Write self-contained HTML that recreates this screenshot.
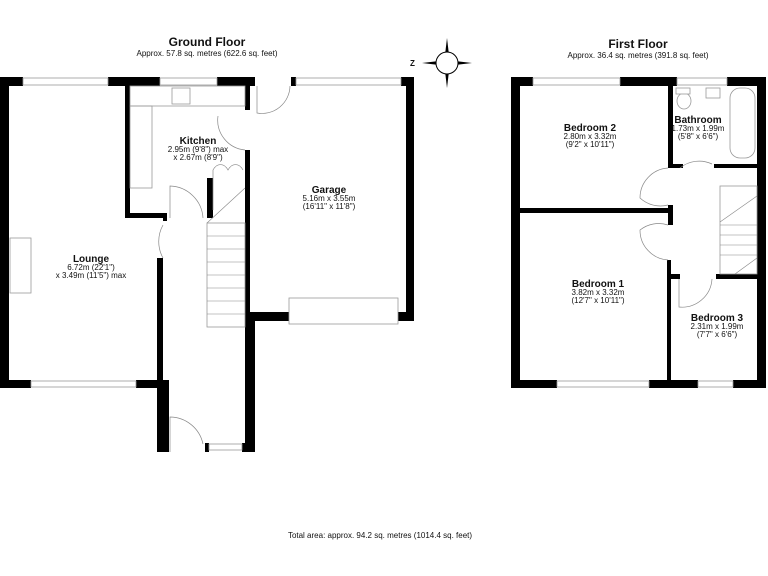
<!DOCTYPE html>
<html><head><meta charset="utf-8"><style>
html,body{margin:0;padding:0;background:#fff}
svg{display:block}
text{font-family:"Liberation Sans",sans-serif;fill:#111}
.t{font-weight:bold;font-size:10px}
.s{font-size:8px}
</style></head><body>
<svg width="768" height="576" viewBox="0 0 768 576" xmlns="http://www.w3.org/2000/svg">
<g fill="#000">
<rect x="0" y="77" width="9" height="311"/>
<rect x="0" y="77" width="23" height="9"/>
<rect x="108" y="77" width="52" height="9"/>
<rect x="217" y="77" width="38" height="9"/>
<rect x="291" y="77" width="5" height="9"/>
<rect x="401" y="77" width="13" height="9"/>
<rect x="406" y="77" width="8" height="244"/>
<rect x="0" y="380" width="31" height="8"/>
<rect x="136" y="380" width="30" height="8"/>
<rect x="157" y="258" width="6" height="130"/>
<rect x="157" y="380" width="12" height="72"/>
<rect x="157" y="443" width="12" height="9"/>
<rect x="205" y="443" width="4" height="9"/>
<rect x="242" y="443" width="13" height="9"/>
<rect x="245" y="312" width="10" height="140"/>
<rect x="248" y="312" width="41" height="9"/>
<rect x="398" y="312" width="16" height="9"/>
<rect x="125" y="86" width="5" height="132"/>
<rect x="125" y="213" width="42" height="5"/>
<rect x="163" y="213" width="4" height="8"/>
<rect x="245" y="86" width="5" height="24"/>
<rect x="245" y="150" width="5" height="170"/>
<rect x="207" y="178" width="6" height="40"/>
<rect x="511" y="77" width="9" height="311"/>
<rect x="511" y="77" width="22" height="9"/>
<rect x="620" y="77" width="57" height="9"/>
<rect x="727" y="77" width="39" height="9"/>
<rect x="757" y="77" width="9" height="311"/>
<rect x="511" y="380" width="46" height="8"/>
<rect x="649" y="380" width="49" height="8"/>
<rect x="733" y="380" width="33" height="8"/>
<rect x="520" y="208" width="152" height="5"/>
<rect x="668" y="86" width="5" height="82"/>
<rect x="668" y="164" width="15" height="4"/>
<rect x="714" y="164" width="43" height="4"/>
<rect x="668" y="205" width="5" height="20"/>
<rect x="667" y="260" width="4" height="120"/>
<rect x="667" y="274" width="13" height="5"/>
<rect x="716" y="274" width="41" height="5"/>
</g>
<g fill="#fff" stroke="#999" stroke-width="0.8">
<rect x="23" y="78" width="85" height="7"/>
<rect x="160" y="78" width="57" height="7"/>
<rect x="296" y="78" width="105" height="7"/>
<rect x="31" y="381" width="105" height="6"/>
<rect x="209" y="444" width="33" height="6"/>
<rect x="533" y="78" width="87" height="7"/>
<rect x="677" y="78" width="50" height="7"/>
<rect x="557" y="381" width="92" height="6"/>
<rect x="698" y="381" width="35" height="6"/>
<rect x="289" y="298" width="109" height="26"/>
<rect x="130" y="86" width="115" height="20" fill="none"/>
<rect x="130" y="106" width="22" height="82" fill="none"/>
<rect x="172" y="88" width="18" height="16"/>
<rect x="10" y="238" width="21" height="55"/>
<rect x="207" y="223" width="38" height="104" fill="none"/>
<rect x="720" y="186" width="37" height="88" fill="none"/>
<rect x="730" y="88" width="25" height="70" rx="10"/>
<ellipse cx="684" cy="101" rx="7" ry="8"/>
<rect x="676" y="88" width="14" height="6"/>
<rect x="706" y="88" width="14" height="10"/>
</g>
<g stroke="#888" stroke-width="0.6">
<line x1="207" y1="236" x2="245" y2="236"/><line x1="207" y1="249" x2="245" y2="249"/>
<line x1="207" y1="262" x2="245" y2="262"/><line x1="207" y1="275" x2="245" y2="275"/>
<line x1="207" y1="288" x2="245" y2="288"/><line x1="207" y1="301" x2="245" y2="301"/>
<line x1="207" y1="314" x2="245" y2="314"/>
<line x1="207" y1="223" x2="245" y2="188"/>
<line x1="720" y1="225" x2="757" y2="225"/><line x1="720" y1="235" x2="757" y2="235"/>
<line x1="720" y1="245" x2="757" y2="245"/><line x1="720" y1="255" x2="757" y2="255"/>
<line x1="720" y1="222" x2="757" y2="196"/><line x1="735" y1="274" x2="757" y2="258"/>
</g>
<g fill="none" stroke="#888" stroke-width="0.7">
<path d="M257 86 V113 A28 28 0 0 0 290 86"/>
<path d="M218 116 A30 30 0 0 0 245 150"/>
<path d="M170 218 V186 A34 34 0 0 1 203 218"/>
<path d="M163 225 A34 34 0 0 0 163 258"/>
<path d="M170 452 V417 A34 34 0 0 1 203 444"/>
<path d="M213 210 V170 A10 16 0 0 1 228 170 A10 16 0 0 1 243 170"/>
<path d="M668 168 A30 30 0 0 0 640 198 A30 30 0 0 0 668 205"/>
<path d="M668 225 A30 30 0 0 0 640 230 A30 30 0 0 0 668 260"/>
<path d="M680 168 A30 30 0 0 1 712 164"/>
<path d="M679 279 V307 A30 30 0 0 0 712 279"/>
</g>
<g transform="translate(447,63)">
<polygon points="0,-25 2,-8 -2,-8" fill="#000"/>
<polygon points="0,25 2,8 -2,8" fill="#000"/>
<polygon points="-25,0 -8,-2 -8,2" fill="#000"/>
<polygon points="25,0 8,-2 8,2" fill="#000"/>
<circle r="11" fill="#fff" stroke="#000" stroke-width="1"/>
<text x="-37" y="3" class="s" style="font-weight:bold">Z</text>
</g>
<text x="207" y="46" class="t" style="font-size:12px" text-anchor="middle">Ground Floor</text>
<text x="207" y="56" class="s" text-anchor="middle">Approx. 57.8 sq. metres (622.6 sq. feet)</text>
<text x="638" y="48" class="t" style="font-size:12px" text-anchor="middle">First Floor</text>
<text x="638" y="58" class="s" text-anchor="middle">Approx. 36.4 sq. metres (391.8 sq. feet)</text>
<text x="198" y="144" class="t" text-anchor="middle">Kitchen</text>
<text x="198" y="152" class="s" text-anchor="middle">2.95m (9'8") max</text>
<text x="198" y="160" class="s" text-anchor="middle">x 2.67m (8'9")</text>
<text x="329" y="193" class="t" text-anchor="middle">Garage</text>
<text x="329" y="201" class="s" text-anchor="middle">5.16m x 3.55m</text>
<text x="329" y="209" class="s" text-anchor="middle">(16'11" x 11'8")</text>
<text x="91" y="262" class="t" text-anchor="middle">Lounge</text>
<text x="91" y="270" class="s" text-anchor="middle">6.72m (22'1")</text>
<text x="91" y="278" class="s" text-anchor="middle">x 3.49m (11'5") max</text>
<text x="590" y="131" class="t" text-anchor="middle">Bedroom 2</text>
<text x="590" y="139" class="s" text-anchor="middle">2.80m x 3.32m</text>
<text x="590" y="147" class="s" text-anchor="middle">(9'2" x 10'11")</text>
<text x="698" y="123" class="t" text-anchor="middle">Bathroom</text>
<text x="698" y="131" class="s" text-anchor="middle">1.73m x 1.99m</text>
<text x="698" y="139" class="s" text-anchor="middle">(5'8" x 6'6")</text>
<text x="598" y="287" class="t" text-anchor="middle">Bedroom 1</text>
<text x="598" y="295" class="s" text-anchor="middle">3.82m x 3.32m</text>
<text x="598" y="303" class="s" text-anchor="middle">(12'7" x 10'11")</text>
<text x="717" y="321" class="t" text-anchor="middle">Bedroom 3</text>
<text x="717" y="329" class="s" text-anchor="middle">2.31m x 1.99m</text>
<text x="717" y="337" class="s" text-anchor="middle">(7'7" x 6'6")</text>
<text x="380" y="538" class="s" text-anchor="middle">Total area: approx. 94.2 sq. metres (1014.4 sq. feet)</text>
</svg>
</body></html>
